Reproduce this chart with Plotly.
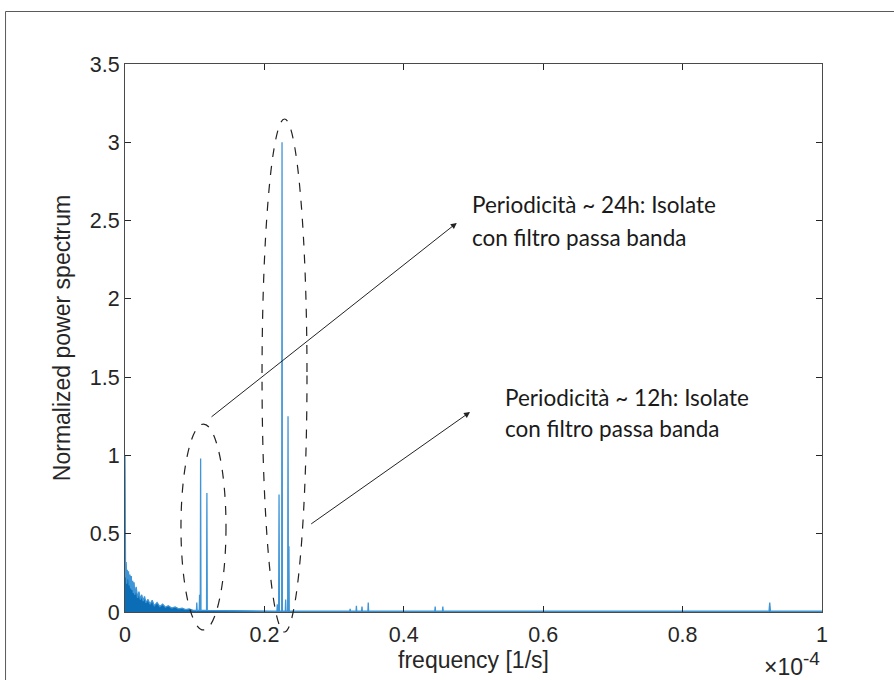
import plotly.graph_objects as go

# Frequency in units of 1e-4 Hz, normalized power spectrum values
freq = [0.0, 0.0008, 0.0016, 0.0024, 0.0032, 0.004, 0.005, 0.006, 0.007, 0.008,
        0.009, 0.010, 0.011, 0.012, 0.013, 0.014, 0.016, 0.018, 0.020, 0.022,
        0.024, 0.026, 0.028, 0.030, 0.033, 0.036, 0.039, 0.042, 0.046, 0.050,
        0.054, 0.058, 0.062, 0.067, 0.072, 0.077, 0.082, 0.087, 0.092, 0.097,
        0.1025, 0.1030, 0.1035, 0.1065, 0.1070, 0.1075,
        0.1080, 0.1085, 0.1090, 0.1170, 0.1175, 0.1180,
        0.2120, 0.2180, 0.2185, 0.2190, 0.2205, 0.2210, 0.2215,
        0.2248, 0.2253, 0.2258, 0.2300, 0.2305, 0.2310,
        0.2334, 0.2339, 0.2344, 0.2348, 0.2352, 0.2356, 0.2400,
        0.3225, 0.3230, 0.3235, 0.3315, 0.3320, 0.3325, 0.3395, 0.3400, 0.3405,
        0.3485, 0.3490, 0.3495,
        0.4445, 0.4450, 0.4455, 0.4555, 0.4560, 0.4565,
        0.9240, 0.9250, 0.9260, 1.0]
power = [1.00, 0.22, 0.32, 0.18, 0.27, 0.21, 0.26, 0.17, 0.24, 0.15,
         0.23, 0.14, 0.20, 0.12, 0.19, 0.11, 0.16, 0.09, 0.13, 0.08,
         0.11, 0.07, 0.10, 0.06, 0.08, 0.05, 0.075, 0.04, 0.06, 0.035,
         0.05, 0.03, 0.04, 0.025, 0.032, 0.02, 0.025, 0.015, 0.02, 0.012,
         0.01, 0.06, 0.01, 0.01, 0.11, 0.01,
         0.01, 0.98, 0.01, 0.01, 0.76, 0.01,
         0.005, 0.005, 0.05, 0.005, 0.005, 0.75, 0.005,
         0.005, 3.00, 0.005, 0.005, 0.08, 0.005,
         0.005, 1.25, 0.005, 0.005, 0.42, 0.005, 0.005,
         0.005, 0.02, 0.005, 0.005, 0.04, 0.005, 0.005, 0.035, 0.005,
         0.005, 0.06, 0.005,
         0.005, 0.035, 0.005, 0.005, 0.035, 0.005,
         0.005, 0.06, 0.005, 0.005]

x_ticks = [0, 0.2, 0.4, 0.6, 0.8, 1]
x_tick_labels = ["0", "0.2", "0.4", "0.6", "0.8", "1"]
y_ticks = [0, 0.5, 1, 1.5, 2, 2.5, 3, 3.5]
y_tick_labels = ["0", "0.5", "1", "1.5", "2", "2.5", "3", "3.5"]

ax_col = "#262626"
txt_font = "Lato, 'Open Sans', sans-serif"
ax_font = "'Liberation Sans', Arial, sans-serif"

fig = go.Figure()
fig.add_trace(go.Scatter(
    x=freq, y=power, mode="lines",
    line=dict(color="#3f95d6", width=1.3),
    fill="tozeroy", fillcolor="#0a6db5",
    hoverinfo="skip", showlegend=False,
))

fig.update_layout(
    width=894, height=680,
    margin=dict(l=125, r=72, t=64, b=68),
    paper_bgcolor="white", plot_bgcolor="white",
    font=dict(family=ax_font, color=ax_col, size=21),
    xaxis=dict(
        range=[0, 1], tickvals=x_ticks, ticktext=x_tick_labels,
        ticks="inside", ticklen=6, tickcolor=ax_col, tickwidth=1,
        showline=True, linecolor="#4a4a4a", linewidth=1, mirror="ticks",
        showgrid=False, zeroline=False,
        tickfont=dict(size=21.5, family=ax_font, color=ax_col),
        ticklabelstandoff=3,
        title=dict(text="frequency [1/s]", font=dict(size=23, family=ax_font, color=ax_col), standoff=4),
    ),
    yaxis=dict(
        range=[0, 3.5], tickvals=y_ticks, ticktext=y_tick_labels,
        ticks="inside", ticklen=6, tickcolor=ax_col, tickwidth=1,
        showline=True, linecolor="#4a4a4a", linewidth=1, mirror="ticks",
        showgrid=False, zeroline=False,
        tickfont=dict(size=21.5, family=ax_font, color=ax_col),
        title=dict(text="Normalized power spectrum", font=dict(size=23, family=ax_font, color=ax_col), standoff=12),
    ),
)

# outer frame
fig.add_shape(type="rect", xref="paper", yref="paper",
              x0=-0.1714, x1=1.3, y0=-0.4, y1=1.0958,
              line=dict(color="#5a5a5a", width=1), layer="below")

# dashed ellipses
fig.add_shape(type="circle", xref="x domain", yref="y domain",
              x0=0.0803, x1=0.1449, y0=-0.0328, y1=0.343,
              line=dict(color="#222", width=1.2, dash="dash"))
fig.add_shape(type="circle", xref="x domain", yref="y domain",
              x0=0.1966, x1=0.2611, y0=-0.0365, y1=0.8996,
              line=dict(color="#222", width=1.2, dash="dash"))

# arrows
arrows = [((0.122, 1.239), (0.476, 2.485)), ((0.265, 0.556), (0.495, 1.277))]
for (tx, ty), (hx, hy) in arrows:
    fig.add_annotation(x=hx, y=hy, ax=tx, ay=ty, xref="x", yref="y", axref="x", ayref="y",
                       text="", showarrow=True, arrowhead=2, arrowsize=1.2, arrowwidth=1,
                       arrowcolor="#222")

notes = [
    (0.495, 2.600, "Periodicità ~ 24h: Isolate"),
    (0.495, 2.395, "con filtro passa banda"),
    (0.542, 1.373, "Periodicità ~ 12h: Isolate"),
    (0.542, 1.170, "con filtro passa banda"),
]
for nx, ny, t in notes:
    fig.add_annotation(x=nx, y=ny, xref="x", yref="y", text=t, showarrow=False,
                       xanchor="left", yanchor="middle",
                       font=dict(family=txt_font, size=22.5, color="#1a1a1a"))

fig.add_annotation(x=1.0, y=-0.095, xref="paper", yref="paper",
                   text="×10<sup><span style='font-size:19px'>-4</span></sup>", showarrow=False,
                   xanchor="right", yanchor="middle",
                   font=dict(family=ax_font, size=23, color=ax_col))

fig.write_html("out.html")
